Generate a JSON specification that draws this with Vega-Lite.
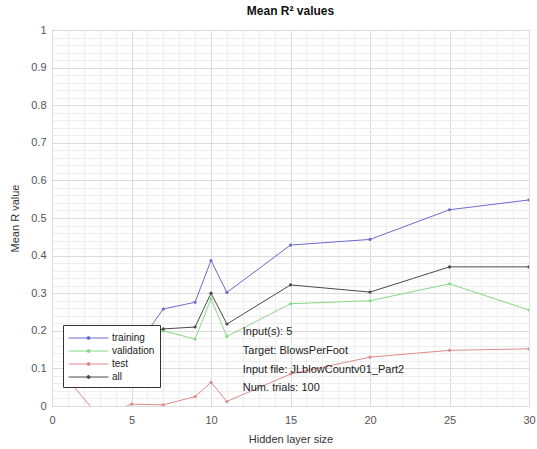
{
  "$schema": "https://vega.github.io/schema/vega-lite/v6.json",
  "autosize": "none",
  "width": 477,
  "height": 376,
  "padding": {"left": 52, "top": 30, "right": 8, "bottom": 43},
  "background": "white",
  "config": {
    "font": "Liberation Sans",
    "view": {"stroke": "#8c8c8c", "strokeWidth": 1}
  },
  "title": {"text": "Mean R² values", "fontSize": 12, "fontWeight": "bold", "color": "#111", "offset": 6, "font": "Liberation Sans"},
  "datasets": {
    "perf": [
      {"size": 1, "set": "training", "r": 0.06},
      {"size": 3, "set": "training", "r": 0.1},
      {"size": 5, "set": "training", "r": 0.14},
      {"size": 7, "set": "training", "r": 0.258},
      {"size": 9, "set": "training", "r": 0.276},
      {"size": 10, "set": "training", "r": 0.387},
      {"size": 11, "set": "training", "r": 0.302},
      {"size": 15, "set": "training", "r": 0.428},
      {"size": 20, "set": "training", "r": 0.443},
      {"size": 25, "set": "training", "r": 0.522},
      {"size": 30, "set": "training", "r": 0.548},
      {"size": 1, "set": "validation", "r": 0.12},
      {"size": 3, "set": "validation", "r": 0.15},
      {"size": 5, "set": "validation", "r": 0.19},
      {"size": 7, "set": "validation", "r": 0.2},
      {"size": 9, "set": "validation", "r": 0.178},
      {"size": 10, "set": "validation", "r": 0.285},
      {"size": 11, "set": "validation", "r": 0.185},
      {"size": 15, "set": "validation", "r": 0.272},
      {"size": 20, "set": "validation", "r": 0.28},
      {"size": 25, "set": "validation", "r": 0.325},
      {"size": 30, "set": "validation", "r": 0.255},
      {"size": 1, "set": "test", "r": 0.07},
      {"size": 3, "set": "test", "r": -0.03},
      {"size": 5, "set": "test", "r": 0.005},
      {"size": 7, "set": "test", "r": 0.003},
      {"size": 9, "set": "test", "r": 0.025},
      {"size": 10, "set": "test", "r": 0.063},
      {"size": 11, "set": "test", "r": 0.012},
      {"size": 15, "set": "test", "r": 0.085},
      {"size": 20, "set": "test", "r": 0.13},
      {"size": 25, "set": "test", "r": 0.148},
      {"size": 30, "set": "test", "r": 0.152},
      {"size": 1, "set": "all", "r": 0.1},
      {"size": 3, "set": "all", "r": 0.13},
      {"size": 5, "set": "all", "r": 0.17},
      {"size": 7, "set": "all", "r": 0.205},
      {"size": 9, "set": "all", "r": 0.21},
      {"size": 10, "set": "all", "r": 0.3},
      {"size": 11, "set": "all", "r": 0.218},
      {"size": 15, "set": "all", "r": 0.322},
      {"size": 20, "set": "all", "r": 0.303},
      {"size": 25, "set": "all", "r": 0.37},
      {"size": 30, "set": "all", "r": 0.37}
    ],
    "notes": [
      {"size": 12, "r": 0.198, "text": "Input(s): 5"},
      {"size": 12, "r": 0.146, "text": "Target: BlowsPerFoot"},
      {"size": 12, "r": 0.097, "text": "Input file: JLblowCountv01_Part2"},
      {"size": 12, "r": 0.048, "text": "Num. trials: 100"}
    ]
  },
  "layer": [
    {
      "data": {"name": "perf"},
      "mark": {"type": "line", "strokeWidth": 1, "clip": true},
      "encoding": {
        "x": {
          "field": "size", "type": "quantitative",
          "scale": {"domain": [0, 30], "nice": false, "zero": false},
          "axis": {
            "title": "Hidden layer size",
            "values": [0,1,2,3,4,5,6,7,8,9,10,11,12,13,14,15,16,17,18,19,20,21,22,23,24,25,26,27,28,29,30],
            "tickCount": 200,
            "labelExpr": "datum.value % 5 === 0 ? format(datum.value, '~g') : ''",
            "labelOverlap": false,
            "labelBound": false,
            "labelFlush": false,
            "grid": true,
            "gridColor": {"condition": {"test": "datum.value % 5 === 0", "value": "#dcdcdc"}, "value": "#eeeeee"},
            "tickSize": 0,
            "domain": false,
            "labelPadding": 8,
            "labelFontSize": 11,
            "labelColor": "#555",
            "titleFontSize": 11,
            "titleFontWeight": "normal",
            "titleColor": "#333",
            "titlePadding": 8
          }
        },
        "y": {
          "field": "r", "type": "quantitative",
          "scale": {"domain": [0, 1], "nice": false, "zero": false},
          "axis": {
            "title": "Mean R value",
            "values": [0,0.02,0.04,0.06,0.08,0.1,0.12,0.14,0.16,0.18,0.2,0.22,0.24,0.26,0.28,0.3,0.32,0.34,0.36,0.38,0.4,0.42,0.44,0.46,0.48,0.5,0.52,0.54,0.56,0.58,0.6,0.62,0.64,0.66,0.68,0.7,0.72,0.74,0.76,0.78,0.8,0.82,0.84,0.86,0.88,0.9,0.92,0.94,0.96,0.98,1],
            "tickCount": 200,
            "labelExpr": "abs(datum.value * 10 - round(datum.value * 10)) < 0.001 ? format(datum.value, '~g') : ''",
            "labelOverlap": false,
            "grid": true,
            "gridColor": {"condition": {"test": "abs(datum.value * 10 - round(datum.value * 10)) < 0.001", "value": "#dcdcdc"}, "value": "#eeeeee"},
            "tickSize": 0,
            "domain": false,
            "labelPadding": 6,
            "labelFontSize": 11,
            "labelColor": "#555",
            "titleFontSize": 11,
            "titleFontWeight": "normal",
            "titleColor": "#333",
            "titlePadding": 10
          }
        },
        "color": {
          "field": "set", "type": "nominal",
          "scale": {"domain": ["training", "validation", "test", "all"], "range": ["#6b6bcf", "#86d886", "#e08a8a", "#4a4a4a"]},
          "legend": {
            "title": null,
            "orient": "none",
            "legendX": 11,
            "legendY": 295,
            "symbolType": "M-1,0H4.33M1.47,0A0.2,0.2,0,1,1,1.87,0A0.2,0.2,0,1,1,1.47,0",
            "symbolSize": 225,
            "symbolStrokeWidth": 1,
            "labelOffset": 28,
            "labelFontSize": 10,
            "labelColor": "#222",
            "rowPadding": 0,
            "padding": 5,
            "strokeColor": "#333",
            "fillColor": "white"
          }
        }
      }
    },
    {
      "data": {"name": "perf"},
      "mark": {"type": "point", "filled": true, "size": 10, "opacity": 1, "clip": true},
      "encoding": {
        "x": {"field": "size", "type": "quantitative"},
        "y": {"field": "r", "type": "quantitative"},
        "color": {"field": "set", "type": "nominal", "legend": null}
      }
    },
    {
      "data": {"name": "notes"},
      "mark": {"type": "text", "align": "left", "baseline": "middle", "fontSize": 11, "color": "#222"},
      "encoding": {
        "x": {"field": "size", "type": "quantitative"},
        "y": {"field": "r", "type": "quantitative"},
        "text": {"field": "text"}
      }
    }
  ]
}
